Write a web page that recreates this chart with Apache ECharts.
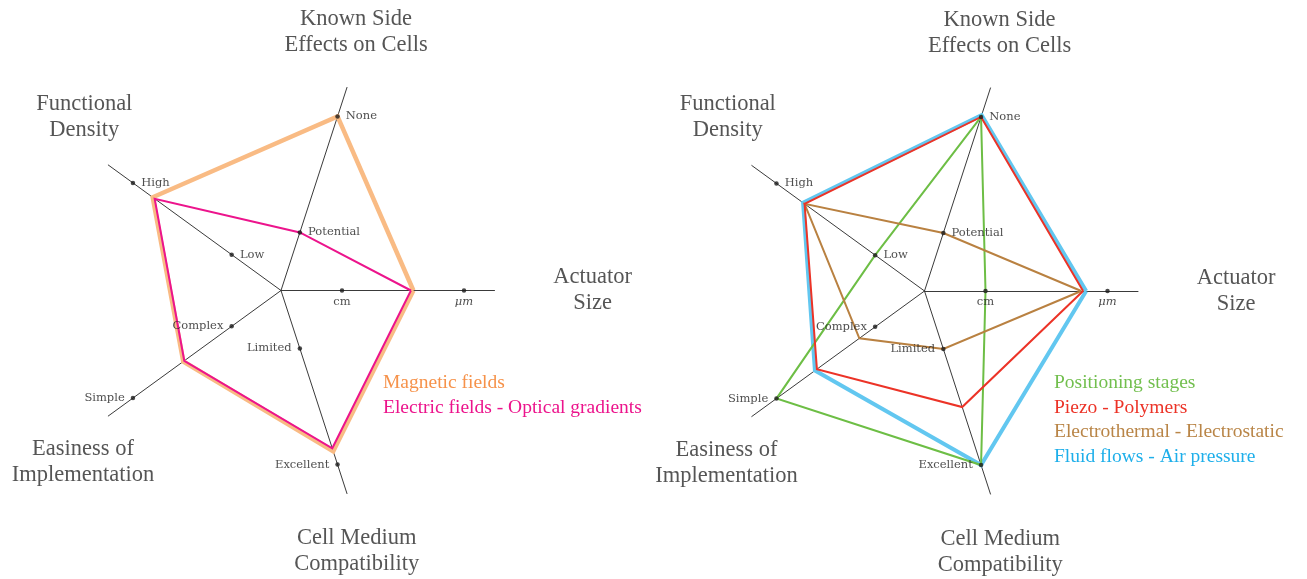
<!DOCTYPE html>
<html><head><meta charset="utf-8">
<script src="https://cdn.jsdelivr.net/npm/echarts@6/dist/echarts.min.js"></script>
<style>html,body{margin:0;padding:0;background:#fff}#c{width:1307px;height:579px}</style>
</head><body><div id="c"></div>
<script>
// ---------- data ----------
const AXIS_NAMES = ['Actuator\nSize', 'Known Side\nEffects on Cells', 'Functional\nDensity', 'Easiness of\nImplementation', 'Cell Medium\nCompatibility'];
const TICK_VALUES = [1, 3];
const TICK_LABELS = [['cm', 'μm'], ['Potential', 'None'], ['Low', 'High'], ['Complex', 'Simple'], ['Limited', 'Excellent']];
const AXIS_MAX = 3.5;

const LEFT_NAMES = ['Magnetic fields', 'Electric fields - Optical gradients'];
const MAGNETIC = [2.17, 3, 2.6, 1.98, 2.77];
const ELECTRIC = [2.13, 1, 2.56, 1.96, 2.72];

const RIGHT_NAMES = ['Positioning stages', 'Piezo - Polymers', 'Electrothermal - Electrostatic', 'Fluid flows - Air pressure'];
const POSITIONING = [1, 3, 1, 3, 3];
const PIEZO = [2.6, 3, 2.43, 2.18, 2.0];
const ELECTROTHERMAL = [2.57, 1, 2.43, 1.32, 1];
const FLUID = [2.65, 3.03, 2.46, 2.22, 3.0];

// ---------- layout / style ----------
const UNIT = 61;
const POLAR_MAX = 6;
const CENTERS = [[281, 290.5], [924.5, 291]];
const NAME_POS = [[5.11, 0], [4.41, 73.8], [4.3, 138.6], [4.30, 221], [4.45, 286.2]];
const TICK_LABEL_POS = ['bottom', 'right', 'right', 'left', 'left'];
const STYLES = {
  'Magnetic fields': {line: '#F9BB84', width: 4.5, text: '#F6924A', z: 2},
  'Electric fields - Optical gradients': {line: '#EC148C', width: 2, text: '#EC148C', z: 3},
  'Fluid flows - Air pressure': {line: '#62C7F0', width: 4, text: '#1EAFEA', z: 2},
  'Electrothermal - Electrostatic': {line: '#B98141', width: 2, text: '#B98547', z: 3},
  'Positioning stages': {line: '#6DBE45', width: 2, text: '#72BF4E', z: 3},
  'Piezo - Polymers': {line: '#EC3327', width: 2, text: '#EC3327', z: 4}
};
const SERIF = 'Liberation Serif';
const TICK_FONT = 'DejaVu Serif';

const leftData = [MAGNETIC, ELECTRIC];
const rightData = [POSITIONING, PIEZO, ELECTROTHERMAL, FLUID];

function radarSeries(names, values, idx) {
  return names.map((n, i) => {
    const s = STYLES[n];
    return {
      type: 'radar', radarIndex: idx, name: n, symbol: 'none', silent: true, z: s.z,
      lineStyle: {color: s.line, width: s.width, join: 'miter'},
      itemStyle: {color: s.line},
      data: [{name: n, value: values[i]}]
    };
  });
}

function tickSeries(idx) {
  const data = [];
  AXIS_NAMES.forEach((a, i) => {
    TICK_VALUES.forEach((v, k) => {
      const txt = TICK_LABELS[i][k];
      data.push({
        value: [v, i * 72],
        label: {
          formatter: txt, position: TICK_LABEL_POS[i],
          distance: TICK_LABEL_POS[i] === 'bottom' ? 3 : 6,
          fontStyle: txt === 'μm' ? 'italic' : 'normal'
        }
      });
    });
  });
  return {
    type: 'scatter', coordinateSystem: 'polar', polarIndex: idx, silent: true, z: 6,
    symbol: 'circle', symbolSize: 4.5, itemStyle: {color: '#1a1a1a'},
    label: {show: true, color: '#222', fontFamily: TICK_FONT, fontSize: 11.5},
    data: data
  };
}

function nameSeries(idx) {
  return {
    type: 'scatter', coordinateSystem: 'polar', polarIndex: idx, silent: true, z: 6,
    symbolSize: 1, itemStyle: {color: 'rgba(0,0,0,0)'},
    label: {show: true, position: 'inside', align: 'center', verticalAlign: 'middle',
      color: '#2a2a2a', fontFamily: SERIF, fontSize: 22.5, lineHeight: 26,
      formatter: p => AXIS_NAMES[p.dataIndex]},
    data: NAME_POS.map(p => [p[0], p[1]])
  };
}

function legend(names, left) {
  return {
    orient: 'vertical', left: left, top: 373, padding: 0, itemGap: 4.6,
    itemWidth: 0, itemHeight: 0, icon: 'none', selectedMode: false,
    textStyle: {fontFamily: SERIF, fontSize: 19.5},
    data: names.map(n => ({name: n, textStyle: {color: STYLES[n].text}}))
  };
}

const option = {
  animation: false,
  backgroundColor: '#fff',
  radar: CENTERS.map(c => ({
    center: c, radius: AXIS_MAX * UNIT, startAngle: 0, shape: 'polygon',
    indicator: AXIS_NAMES.map(n => ({name: n, min: 0, max: AXIS_MAX})),
    axisName: {show: false},
    splitLine: {show: false}, splitArea: {show: false},
    axisTick: {show: false}, axisLabel: {show: false},
    axisLine: {lineStyle: {color: '#3a3a3a', width: 1}}
  })),
  polar: CENTERS.map(c => ({center: c, radius: POLAR_MAX * UNIT})),
  angleAxis: CENTERS.map((c, i) => ({polarIndex: i, type: 'value', min: 0, max: 360, startAngle: 0, clockwise: false, show: false})),
  radiusAxis: CENTERS.map((c, i) => ({polarIndex: i, type: 'value', min: 0, max: POLAR_MAX, show: false})),
  legend: [legend(LEFT_NAMES, 378), legend(RIGHT_NAMES, 1049)],
  series: [].concat(
    radarSeries(LEFT_NAMES, leftData, 0),
    radarSeries(RIGHT_NAMES, rightData, 1),
    [tickSeries(0), tickSeries(1), nameSeries(0), nameSeries(1)]
  )
};
echarts.init(document.getElementById('c'), null, {renderer: 'canvas'}).setOption(option);
</script></body></html>
